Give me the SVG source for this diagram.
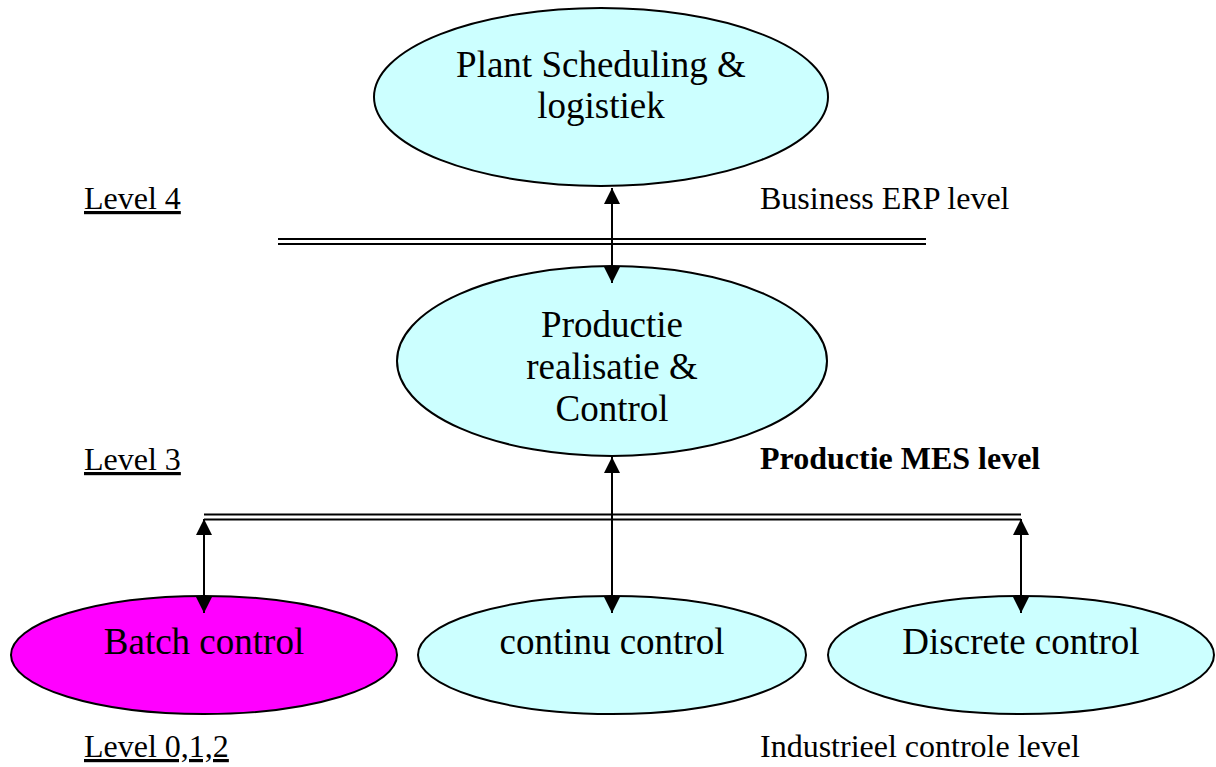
<svg xmlns="http://www.w3.org/2000/svg" width="1216" height="767" viewBox="0 0 1216 767">
<defs>
<style>
.node{fill:#CCFFFF;stroke:#000;stroke-width:2}
.magenta{fill:#FF00FF;stroke:#000;stroke-width:2}
.t{font-family:"Liberation Serif","Times New Roman",serif;font-size:37px;fill:#000;text-anchor:middle}
.lbl{font-family:"Liberation Serif","Times New Roman",serif;font-size:32px;fill:#000}
.u{text-decoration:underline}
.b{font-weight:bold}
.bar{stroke:#000;stroke-width:2.2;fill:none}
.conn{stroke:#000;stroke-width:2;fill:none;marker-start:url(#ah);marker-end:url(#ah)}
</style>
<marker id="ah" viewBox="0 0 16 16" refX="16" refY="8" markerWidth="16" markerHeight="16" markerUnits="userSpaceOnUse" orient="auto-start-reverse">
<path d="M0,0 L16,8 L0,16 Z" fill="#000"/>
</marker>
</defs>
<rect width="1216" height="767" fill="#fff"/>
<g id="bars">
<line class="bar" x1="278" y1="239" x2="926" y2="239"/>
<line class="bar" x1="278" y1="244" x2="926" y2="244"/>
<line class="bar" x1="204" y1="514.5" x2="1021" y2="514.5"/>
<line class="bar" x1="204" y1="519.5" x2="1021" y2="519.5"/>
</g>
<g id="node-plant">
<ellipse class="node" cx="601" cy="97" rx="227" ry="89"/>
<text class="t" x="601" y="77">Plant Scheduling &amp;</text>
<text class="t" x="601" y="118">logistiek</text>
</g>
<g id="node-productie">
<ellipse class="node" cx="612" cy="361" rx="215" ry="95"/>
<text class="t" x="612" y="337">Productie</text>
<text class="t" x="612" y="379">realisatie &amp;</text>
<text class="t" x="612" y="421">Control</text>
</g>
<g id="node-batch">
<ellipse class="magenta" cx="204" cy="655" rx="193" ry="59"/>
<text class="t" x="204" y="654">Batch control</text>
</g>
<g id="node-continu">
<ellipse class="node" cx="612" cy="655" rx="194" ry="59"/>
<text class="t" x="612" y="654">continu control</text>
</g>
<g id="node-discrete">
<ellipse class="node" cx="1021" cy="655" rx="193" ry="59"/>
<text class="t" x="1021" y="654">Discrete control</text>
</g>
<g id="connectors">
<line class="conn" x1="612" y1="188" x2="612" y2="283"/>
<line class="conn" x1="612" y1="457" x2="612" y2="613"/>
<line class="conn" x1="204" y1="519" x2="204" y2="613"/>
<line class="conn" x1="1021" y1="519" x2="1021" y2="613"/>
</g>
<g id="labels">
<text class="lbl u" x="84" y="209">Level 4</text>
<text class="lbl" x="760" y="209">Business ERP level</text>
<text class="lbl u" x="84" y="470">Level 3</text>
<text class="lbl b" x="760" y="469">Productie MES level</text>
<text class="lbl u" x="84" y="757">Level 0,1,2</text>
<text class="lbl" x="760" y="757">Industrieel controle level</text>
</g>
</svg>
